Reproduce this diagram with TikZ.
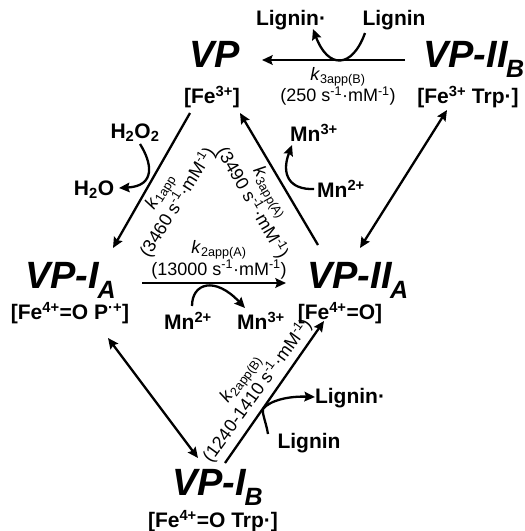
\documentclass[tikz,border=0pt]{standalone}
\usepackage{fontspec}
\setmainfont{Liberation Sans}
\usetikzlibrary{arrows.meta}
\newcommand\bigsub[1]{\kern-1.5pt\raisebox{-10pt}{\fontsize{25}{25}\selectfont #1}}
\begin{document}
\begin{tikzpicture}[x=1pt,y=-1pt,
  big/.style={font=\fontsize{38}{38}\selectfont\bfseries\itshape, inner sep=0pt, anchor=base west},
  chem/.style={font=\fontsize{21}{21}\selectfont\bfseries, inner sep=0pt},
  rate/.style={font=\fontsize{18}{18}\selectfont, inner sep=0pt, align=center},
  tip/.tip={Stealth[length=10.5pt,width=9.5pt,inset=1.5pt]},
  rx/.style={line width=2.3pt, -tip},
  both/.style={line width=2.3pt, tip-tip},
  side/.style={line width=2.3pt, -tip}
]
\useasboundingbox (0,0) rectangle (525,531);

% species
\node[big] (vp)    at (189,67)  {VP};
\node[big] (vpiib) at (423,67)  {VP-II\bigsub{B}};
\node[big] (vpia)  at (25,288)  {VP-I\bigsub{A}};
\node[big] (vpiia) at (307,288) {VP-II\bigsub{A}};
\node[big] (vpib)  at (172,495) {VP-I\bigsub{B}};

\node[chem] (fe3)    at (212,97)  {[Fe\textsuperscript{3+}]};
\node[chem] (fe3trp) at (468,97)  {[Fe\textsuperscript{3+} Trp·]};
\node[chem] (fe4p)   at (70,313)  {[Fe\textsuperscript{4+}=O P\textsuperscript{·+}]};
\node[chem] (fe4o)   at (340,313) {[Fe\textsuperscript{4+}=O]};
\node[chem] (fe4trp) at (213,521) {[Fe\textsuperscript{4+}=O Trp·]};

% co-substrates
\node[chem] (lig1) at (291,20)  {Lignin·};
\node[chem] (lig2) at (394,20)  {Lignin};
\node[chem] (hoo)  at (135,133) {H\textsubscript{2}O\textsubscript{2}};
\node[chem] (ho)   at (94,190)  {H\textsubscript{2}O};
\node[chem] (mn3u) at (314,133) {Mn\textsuperscript{3+}};
\node[chem] (mn2u) at (341,189) {Mn\textsuperscript{2+}};
\node[chem] (mn2l) at (188,321) {Mn\textsuperscript{2+}};
\node[chem] (mn3l) at (261,321) {Mn\textsuperscript{3+}};
\node[chem] (lig3) at (350,398) {Lignin·};
\node[chem] (lig4) at (309,443) {Lignin};

% rate constants
\node[rate, anchor=north] (k3b) at (338,67) {\textit{k}\textsubscript{3app(B)}\\(250 s\textsuperscript{-1}·mM\textsuperscript{-1})};
\node[rate, anchor=south] (k2a) at (219,279) {\textit{k}\textsubscript{2app(A)}\\(13000 s\textsuperscript{-1}·mM\textsuperscript{-1})};
\node[rate, rotate=58, anchor=north] (k1) at (153,187) {\textit{k}\textsubscript{1app}\\(3460 s\textsuperscript{-1}·mM\textsuperscript{-1})};
\node[rate, rotate=-60, anchor=north] (k3a) at (278,188) {\textit{k}\textsubscript{3app(A)}\\(3490 s\textsuperscript{-1}·mM\textsuperscript{-1})};
\node[rate, rotate=54, anchor=south] (k2b) at (265,396) {\textit{k}\textsubscript{2app(B)}\\(1240-1410 s\textsuperscript{-1}·mM\textsuperscript{-1})};

% connector end points
\coordinate (vpS)     at (190,113);
\coordinate (vpiaN)   at (113,248);
\coordinate (vpiaE)   at (142,283);
\coordinate (vpiiaW)  at (286,283);
\coordinate (vpiiaN)  at (318,245);
\coordinate (vpSE)    at (240,113);
\coordinate (vpiibW)  at (405,60);
\coordinate (vpE)     at (262,60);
\coordinate (vpiibS)  at (447,110);
\coordinate (vpiiaNE) at (360,248);
\coordinate (vpiaS)   at (108,338);
\coordinate (vpibN)   at (198,458);
\coordinate (vpibNE)  at (225,463);
\coordinate (vpiiaS)  at (324,321);

% main reactions
\draw[rx] (vpS) -- (vpiaN);
\draw[rx] (vpiaE) -- (vpiiaW);
\draw[rx] (vpiiaN) -- (vpSE);
\draw[rx] (vpiibW) -- (vpE);
\draw[both] (vpiibS) -- (vpiiaNE);
\draw[both] (vpiaS) -- (vpibN);
\draw[rx] (vpibNE) -- (vpiiaS);

% side reactions
\coordinate (hooS) at (140,144);
\coordinate (hoE)  at (119,188);
\draw[side] (hooS) .. controls (152,163) and (156,186) .. (hoE);

\coordinate (mn2uW) at (314,189);
\coordinate (mn3uS) at (292,145);
\draw[side] (mn2uW) .. controls (289,190) and (281,174) .. (mn3uS);

\coordinate (lig2S) at (365,33);
\coordinate (lig1S) at (313,29);
\draw[side] (lig2S) .. controls (352,69) and (328,69) .. (lig1S);

\coordinate (mn2lN) at (192,306);
\coordinate (mn3lN) at (245,308);
\draw[side] (mn2lN) .. controls (192,283) and (215,276) .. (mn3lN);

\coordinate (lig4N) at (268,434);
\coordinate (lig3W) at (315,397);
\coordinate (lig4T) at (263,409);
\draw[side] (lig4N) .. controls (266,422) and (262,414) .. (lig4T)
  .. controls (270,400) and (290,396) .. (lig3W);
\end{tikzpicture}
\end{document}
